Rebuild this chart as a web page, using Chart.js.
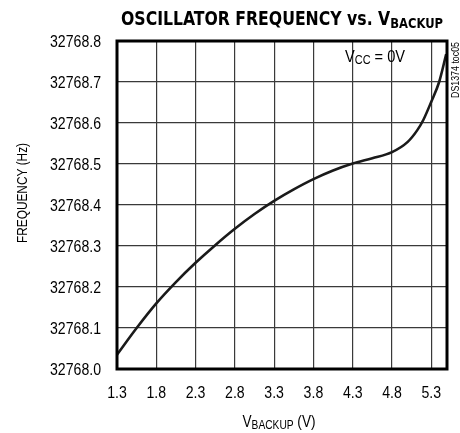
<!DOCTYPE html>
<html>
<head>
<meta charset="utf-8">
<script src="https://cdn.jsdelivr.net/npm/chart.js@4"></script>
<style>
  html, body { margin: 0; padding: 0; background: #fff; }
  #wrap { width: 460px; height: 433px; }
</style>
</head>
<body>
<div id="wrap"><canvas id="oscChart" width="460" height="433"></canvas></div>
<script>
// backup voltage (V) and oscillator frequency (Hz)
var vBackup = [1.3, 1.55, 1.8, 2.05, 2.3, 2.55, 2.8, 3.05, 3.3, 3.55, 3.8, 4.05, 4.3, 4.55, 4.8, 5.0, 5.12, 5.2, 5.3, 5.4, 5.49];
var frequency = [32768.035, 32768.10, 32768.16, 32768.212, 32768.259, 32768.302, 32768.342, 32768.378, 32768.41, 32768.438, 32768.463, 32768.484, 32768.501, 32768.514, 32768.529, 32768.554, 32768.582, 32768.608, 32768.652, 32768.700, 32768.768];

var xTicks = [1.3, 1.8, 2.3, 2.8, 3.3, 3.8, 4.3, 4.8, 5.3];
var yTicks = [32768.0, 32768.1, 32768.2, 32768.3, 32768.4, 32768.5, 32768.6, 32768.7, 32768.8];

var FONT = "'Liberation Sans', Arial, sans-serif";
var BOLD_FONT = "'DejaVu Sans Condensed', 'Liberation Sans', sans-serif";

// text squeezed horizontally so it reads like the narrow face of the original
function narrowText(ctx, text, x, y, size, weight, sx, align, family) {
  ctx.font = weight + ' ' + size + 'px ' + (family || FONT);
  var w = ctx.measureText(text).width * sx;
  var left = align === 'right' ? x - w : (align === 'center' ? x - w / 2 : x);
  ctx.save();
  ctx.translate(left, y);
  ctx.scale(sx, 1);
  ctx.textAlign = 'left';
  ctx.fillText(text, 0, 0);
  ctx.restore();
  return w;
}

// main text + subscript + tail, fitted to a target width and centered on x
function subText(ctx, parts, x, y, size, weight, width, subOffset, family) {
  var fam = family || FONT;
  var subSize = Math.round(size * 0.72);
  ctx.font = weight + ' ' + size + 'px ' + fam;
  var w1 = ctx.measureText(parts[0]).width;
  var w3 = parts[2] ? ctx.measureText(parts[2]).width : 0;
  ctx.font = weight + ' ' + subSize + 'px ' + fam;
  var w2 = ctx.measureText(parts[1]).width;
  var sx = width / (w1 + w2 + w3);
  var left = x - width / 2;
  left += narrowText(ctx, parts[0], left, y, size, weight, sx, 'left', fam);
  left += narrowText(ctx, parts[1], left, y + subOffset, subSize, weight, sx, 'left', fam);
  if (parts[2]) narrowText(ctx, parts[2], left, y, size, weight, sx, 'left', fam);
}

var decorations = {
  id: 'decorations',
  afterDraw: function(chart) {
    var ctx = chart.ctx;
    var a = chart.chartArea;
    var xs = chart.scales.x;
    var ys = chart.scales.y;
    ctx.save();
    ctx.fillStyle = '#000';
    ctx.textBaseline = 'alphabetic';

    // frame
    ctx.strokeStyle = '#000';
    ctx.lineWidth = 3;
    ctx.strokeRect(a.left, a.top, a.right - a.left, a.bottom - a.top);

    // tick labels, placed with the chart's own scales
    ctx.font = '16px ' + FONT;
    var sx = 51 / ctx.measureText('32768.8').width;
    ys.ticks.forEach(function(t) {
      narrowText(ctx, t.value.toFixed(1), 101, ys.getPixelForValue(t.value) + 6, 16, 'normal', sx, 'right');
    });
    xs.ticks.forEach(function(t) {
      narrowText(ctx, t.value.toFixed(1), xs.getPixelForValue(t.value), 398, 16, 'normal', sx, 'center');
    });

    // title
    subText(ctx, ['OSCILLATOR FREQUENCY vs. V', 'BACKUP', ''], 282, 25, 19, 'bold', 322, 3, BOLD_FONT);

    // x axis title
    subText(ctx, ['V', 'BACKUP', ' (V)'], 279, 427, 16, 'normal', 73, 2);

    // y axis title
    ctx.save();
    ctx.translate(27, 193);
    ctx.rotate(-Math.PI / 2);
    ctx.font = '15px ' + FONT;
    narrowText(ctx, 'FREQUENCY (Hz)', 0, 0, 15, 'normal', 100 / ctx.measureText('FREQUENCY (Hz)').width, 'center');
    ctx.restore();

    // condition label
    subText(ctx, ['V', 'CC', ' = 0V'], 375, 62, 16, 'normal', 60, 2);

    // doc reference
    ctx.save();
    ctx.translate(459, 70);
    ctx.rotate(-Math.PI / 2);
    ctx.font = '10px ' + FONT;
    narrowText(ctx, 'DS1374 toc05', 0, 0, 10, 'normal', 56 / ctx.measureText('DS1374 toc05').width, 'center');
    ctx.restore();

    ctx.restore();
  }
};

var ctx = document.getElementById('oscChart').getContext('2d');
new Chart(ctx, {
  type: 'line',
  data: {
    datasets: [{
      data: vBackup.map(function(v, i) { return { x: v, y: frequency[i] }; }),
      borderColor: '#1a1a1a',
      borderWidth: 2.6,
      pointRadius: 0,
      cubicInterpolationMode: 'monotone',
      fill: false
    }]
  },
  options: {
    responsive: false,
    animation: false,
    layout: { padding: { left: 0, top: 41, right: 13, bottom: 0 } },
    plugins: { legend: { display: false }, tooltip: { enabled: false } },
    scales: {
      x: {
        type: 'linear',
        min: 1.3,
        max: 5.5,
        afterBuildTicks: function(axis) {
          axis.ticks = xTicks.map(function(v) { return { value: v }; });
        },
        afterFit: function(axis) { axis.height = 64; },
        grid: { color: '#3a3a3a', lineWidth: 1.2, drawTicks: false },
        border: { display: false },
        ticks: { display: false }
      },
      y: {
        type: 'linear',
        min: 32768.0,
        max: 32768.8,
        afterBuildTicks: function(axis) {
          axis.ticks = yTicks.map(function(v) { return { value: v }; });
        },
        afterFit: function(axis) { axis.width = 117; },
        grid: { color: '#3a3a3a', lineWidth: 1.2, drawTicks: false },
        border: { display: false },
        ticks: { display: false }
      }
    }
  },
  plugins: [decorations]
});
</script>
</body>
</html>
